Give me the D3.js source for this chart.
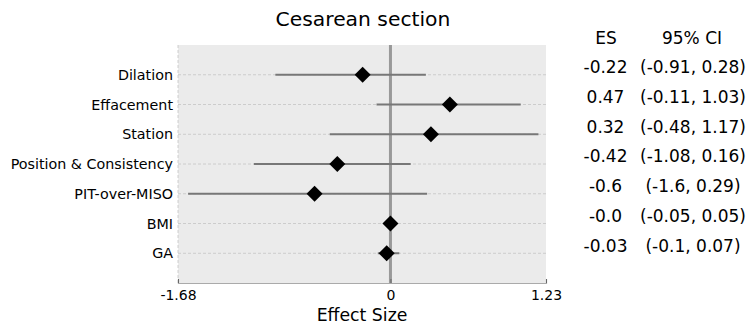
<!DOCTYPE html>
<html><head><meta charset="utf-8">
<script src="https://cdn.jsdelivr.net/npm/d3@7"></script>
<style>body{margin:0;background:#fff}svg{display:block;font-family:"DejaVu Sans",sans-serif}</style>
</head><body><svg id="c" width="748" height="335"></svg>
<script>
const labels = ["Dilation","Effacement","Station","Position & Consistency","PIT-over-MISO","BMI","GA"];
const es = [-0.22, 0.47, 0.32, -0.42, -0.6, -0.0, -0.03];
const lo = [-0.91, -0.11, -0.48, -1.08, -1.6, -0.05, -0.1];
const hi = [0.28, 1.03, 1.17, 0.16, 0.29, 0.05, 0.07];
const esText = ["-0.22","0.47","0.32","-0.42","-0.6","-0.0","-0.03"];
const ciText = ["(-0.91, 0.28)","(-0.11, 1.03)","(-0.48, 1.17)","(-1.08, 0.16)","(-1.6, 0.29)","(-0.05, 0.05)","(-0.1, 0.07)"];
const xTicks = [-1.68, 0, 1.23];
const xTickLabels = ["-1.68","0","1.23"];

const svg = d3.select("#c");
const L = 178, R = 546, T = 45, B = 283;
const x = d3.scaleLinear().domain([-1.68, 1.23]).range([L, R]);
const y = d3.scaleLinear().domain([0, 8]).range([T, B]);

svg.append("rect").attr("x", L).attr("y", T).attr("width", R - L).attr("height", B - T).attr("fill", "#ebebeb");
// grid
svg.selectAll(".g").data(labels).join("line")
  .attr("x1", L).attr("x2", R).attr("y1", (d,i)=>y(i+1)).attr("y2", (d,i)=>y(i+1))
  .attr("stroke", "#c4c4c4").attr("stroke-width", 0.8).attr("stroke-dasharray", "3,2");
svg.append("line").attr("x1", L).attr("x2", L).attr("y1", T).attr("y2", B)
  .attr("stroke", "#c4c4c4").attr("stroke-width", 0.8).attr("stroke-dasharray", "3,2");
// zero line
svg.append("line").attr("x1", x(0)).attr("x2", x(0)).attr("y1", T).attr("y2", B)
  .attr("stroke", "#999").attr("stroke-width", 3);
// bottom axis
const ax = svg.append("g").attr("transform", `translate(0,${B})`)
  .call(d3.axisBottom(x).tickValues(xTicks).tickFormat((d,i)=>xTickLabels[i]).tickSize(-4).tickPadding(7));
ax.select(".domain").attr("stroke", "#aaa").attr("stroke-width", 1.2);
ax.selectAll(".tick line").attr("stroke", "#666");
ax.selectAll("text").attr("font-size", 14).attr("fill", "#000").attr("font-family", "DejaVu Sans");
// CIs
svg.selectAll(".ci").data(labels).join("line")
  .attr("x1", (d,i)=>x(lo[i])).attr("x2", (d,i)=>x(hi[i]))
  .attr("y1", (d,i)=>y(i+1)).attr("y2", (d,i)=>y(i+1))
  .attr("stroke", "#777").attr("stroke-width", 2);
// diamonds
svg.selectAll(".dm").data(labels).join("path")
  .attr("d", d3.symbol().type(d3.symbolSquare).size(128))
  .attr("transform", (d,i)=>`translate(${x(es[i])},${y(i+1)}) rotate(45)`)
  .attr("fill", "#000");
// row labels
svg.selectAll(".lb").data(labels).join("text")
  .attr("x", L - 5).attr("y", (d,i)=>y(i+1)).attr("dy", "0.35em")
  .attr("text-anchor", "end").attr("font-size", 14.3).text(d=>d);
// title
svg.append("text").attr("x", 363).attr("y", 26).attr("text-anchor", "middle").attr("font-size", 20.3).text("Cesarean section");
svg.append("text").attr("x", (L + R) / 2).attr("y", 321).attr("text-anchor", "middle").attr("font-size", 17.3).text("Effect Size");
// table
svg.append("text").attr("x", 606).attr("y", 38).attr("dy", "0.35em").attr("text-anchor", "middle").attr("font-size", 17).text("ES");
svg.append("text").attr("x", 692).attr("y", 38).attr("dy", "0.35em").attr("text-anchor", "middle").attr("font-size", 17).text("95% CI");
svg.selectAll(".es").data(esText).join("text")
  .attr("x", 605.5).attr("y", (d,i)=>y(i+1) - 7.5).attr("dy", "0.35em").attr("text-anchor", "middle").attr("font-size", 17).text(d=>d);
svg.selectAll(".cit").data(ciText).join("text")
  .attr("x", 693).attr("y", (d,i)=>y(i+1) - 7.5).attr("dy", "0.35em").attr("text-anchor", "middle").attr("font-size", 17).text(d=>d);
</script></body></html>
